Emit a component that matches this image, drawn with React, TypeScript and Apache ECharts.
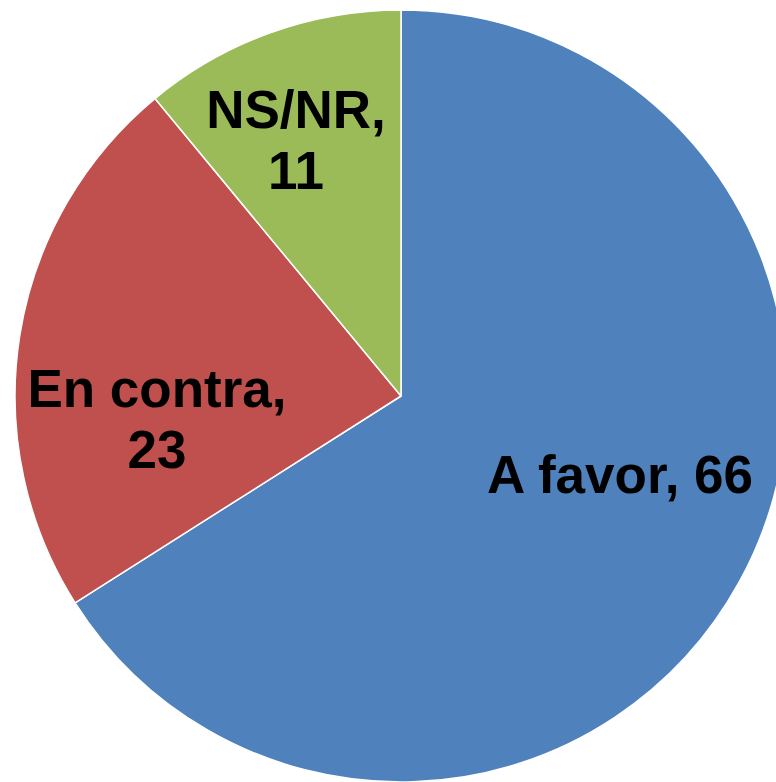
import React, { useEffect, useRef } from "react";
import * as echarts from "echarts";

const categories = ["A favor", "En contra", "NS/NR"];
const values = [66, 23, 11];
const colors = ["#4F81BD", "#C0504D", "#9BBB59"];

const labelCenters: [number, number][] = [
  [620, 474],
  [157, 419],
  [296, 140],
];

export default function App() {
  const ref = useRef<HTMLDivElement>(null);
  useEffect(() => {
    document.body.style.margin = "0";
    if (!ref.current) return;
    const chart = echarts.init(ref.current, null, { renderer: "svg" });
    chart.setOption({
      animation: false,
      backgroundColor: "#ffffff",
      series: [
        {
          type: "pie",
          center: [401, 396],
          radius: [0, 386],
          startAngle: 90,
          clockwise: true,
          avoidLabelOverlap: false,
          itemStyle: { borderColor: "#ffffff", borderWidth: 1.5 },
          label: {
            show: true,
            position: "inside",
            color: "#000000",
            fontFamily: "Liberation Sans, Arial, sans-serif",
            fontWeight: "bold",
            fontSize: 53,
            lineHeight: 61,
            align: "center",
            verticalAlign: "middle",
            formatter: (p: any) =>
              p.dataIndex === 0 ? `${p.name}, ${p.value}` : `${p.name},\n${p.value}`,
          },
          labelLine: { show: false },
          labelLayout: (p: any) => ({
            x: labelCenters[p.dataIndex][0],
            y: labelCenters[p.dataIndex][1],
            align: "center",
            verticalAlign: "middle",
          }),
          data: categories.map((c, i) => ({
            name: c,
            value: values[i],
            itemStyle: { color: colors[i] },
          })),
        },
      ],
    });
    return () => chart.dispose();
  }, []);
  return <div ref={ref} style={{ width: 776, height: 782 }} />;
}
